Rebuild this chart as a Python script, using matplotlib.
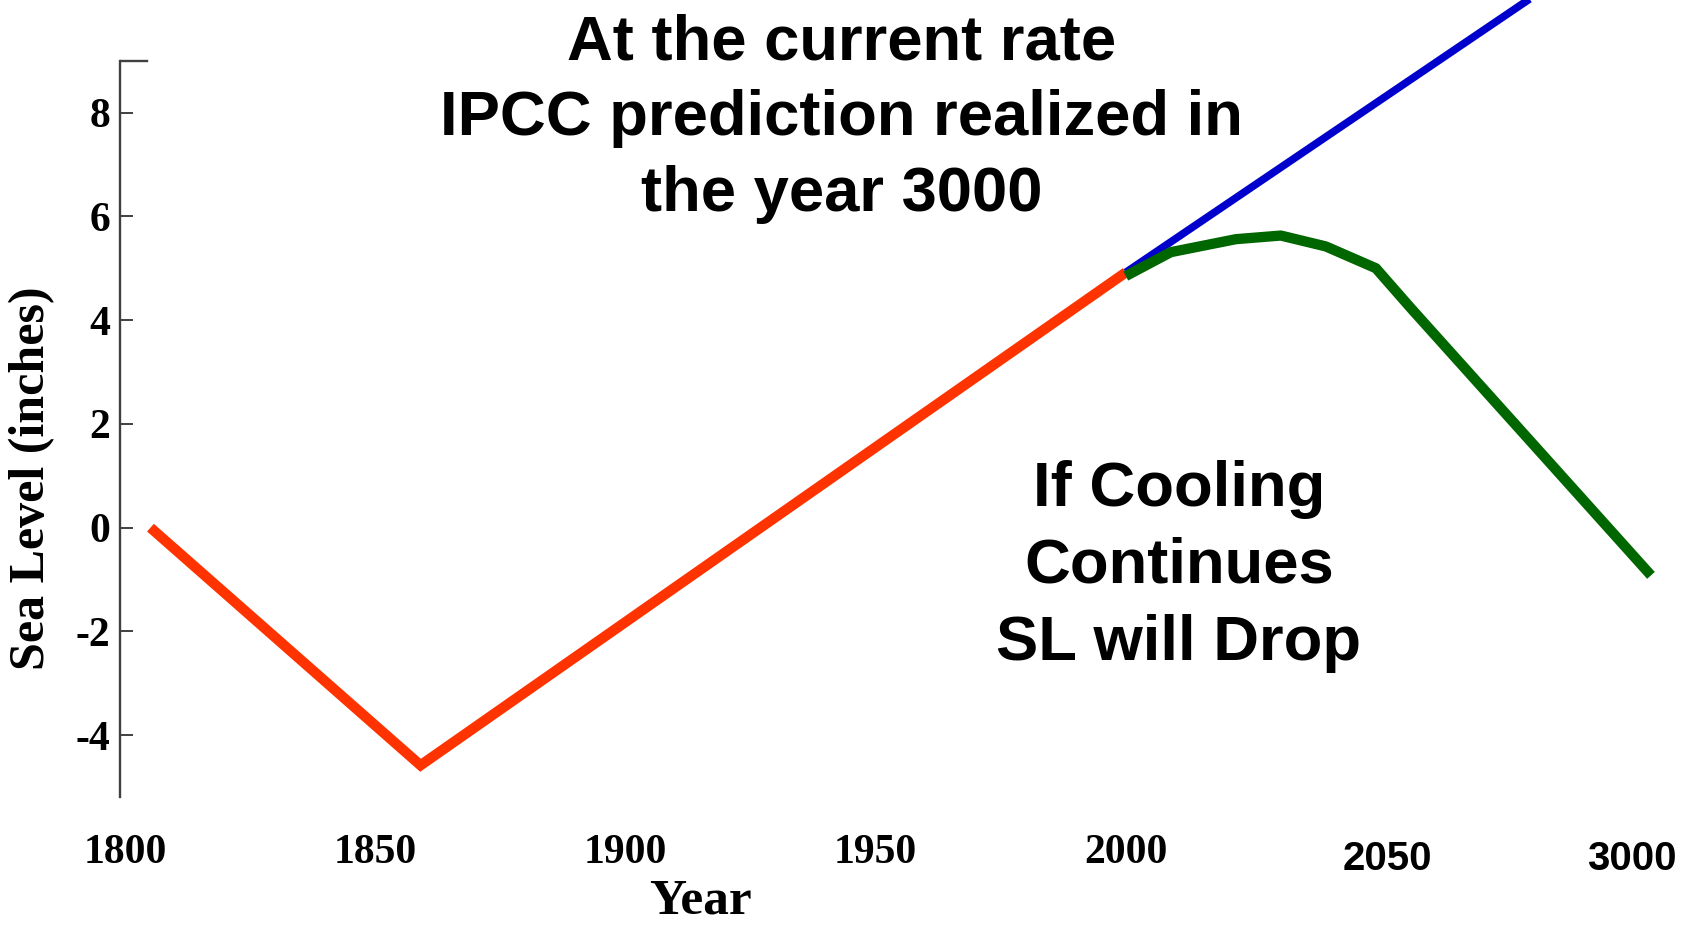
import matplotlib.pyplot as plt

# Observed sea level, 1800-2000
obs_years = [1805, 1859, 2000]
obs_level = [0.0, -4.58, 4.92]

# Straight-line continuation of the current rate
trend_years = [2000, 2110]
trend_level = [4.92, 12.1]

# Cooling scenario
cool_years = [2000, 2009, 2022, 2031, 2040, 2050, 2057, 2105]
cool_level = [4.85, 5.31, 5.56, 5.63, 5.42, 5.0, 4.23, -0.92]

year_ticks = [1800, 1850, 1900, 1950, 2000]
year_labels = ['1800', '1850', '1900', '1950', '2000']
level_ticks = [-4, -2, 0, 2, 4, 6, 8]

# extra labels pasted on the right end of the year axis
far_labels = ['2050', '3000']
far_pos = [2052.3, 2101.1]

title_lines = ['At the current rate', 'IPCC prediction realized in', 'the year 3000']
note_lines = ['If Cooling', 'Continues', 'SL will Drop']

serif = 'Liberation Serif'
sans = 'Liberation Sans'

fig = plt.figure(figsize=(16.94, 9.25), dpi=100)
ax = fig.add_axes([0.0708, 0.1379, 0.9292, 0.8621])

ax.plot(obs_years, obs_level, color='#ff3300', lw=7.4, solid_joinstyle='miter', solid_capstyle='butt')
ax.plot(trend_years, trend_level, color='#0000cc', lw=5.5, solid_capstyle='butt')
ax.plot(cool_years, cool_level, color='#006600', lw=7.4, solid_capstyle='butt')

ax.set_xlim(1798.9, 2113.6)
ax.set_ylim(-5.2, 10.17)

for s in ['top', 'right', 'bottom']:
    ax.spines[s].set_visible(False)
ax.spines['left'].set_bounds(-5.2, 9)
ax.spines['left'].set_color('#404040')
ax.spines['left'].set_linewidth(1.7)
# short cap at the top of the axis
ax.axhline(9, xmin=0, xmax=0.017, color='#404040', lw=1.7)

ax.set_yticks(level_ticks)
ax.set_yticklabels([str(v) for v in level_ticks])
ax.tick_params(axis='y', direction='in', length=9, width=1.4, color='#404040', pad=7)
ax.set_xticks(year_ticks)
ax.set_xticklabels(year_labels)
ax.tick_params(axis='x', length=0, pad=26)
for lab in ax.get_xticklabels() + ax.get_yticklabels():
    lab.set_fontfamily(serif)
    lab.set_fontweight('bold')
    lab.set_fontsize(30)

for lab, x in zip(far_labels, far_pos):
    ax.text(x, -0.0773, lab, transform=ax.get_xaxis_transform(), ha='center', va='center',
            fontsize=29, fontweight='bold', family=sans)

ax.set_xlabel('Year', fontsize=37, fontweight='bold', family=serif)
ax.xaxis.set_label_coords(0.3686, -0.131)
ax.xaxis.label.set_va('center')
ax.set_ylabel('Sea Level (inches)', fontsize=36, fontweight='bold', family=serif)
ax.yaxis.set_label_coords(-0.0557, 0.40)
ax.yaxis.label.set_va('center')

# big captions, one text per line
for i, line in enumerate(title_lines):
    fig.text(0.497, 1 - (59.4 + 76 * i) / 925, line, ha='center', va='baseline',
             fontsize=45.6, fontweight='bold', family=sans)
for i, line in enumerate(note_lines):
    fig.text(0.696, 1 - (505.6 + 77 * i) / 925, line, ha='center', va='baseline',
             fontsize=45.6, fontweight='bold', family=sans)

fig.savefig('out.png', dpi=100)
